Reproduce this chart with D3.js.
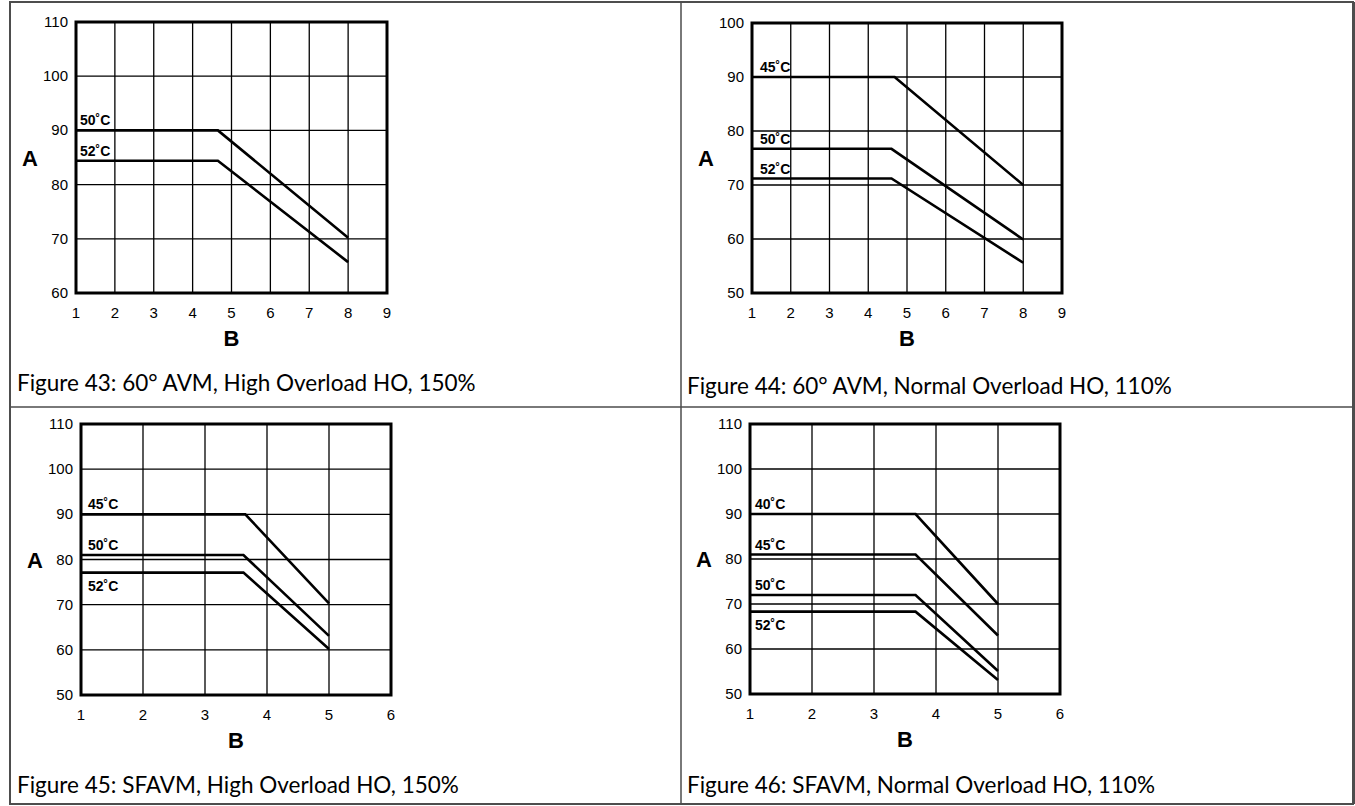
<!DOCTYPE html>
<html>
<head>
<meta charset="utf-8">
<script src="https://cdn.jsdelivr.net/npm/d3@7"></script>
<style>
    body { margin: 0; background: #fff; }
    svg text { font-family: "Liberation Sans", Arial, sans-serif; fill: #000; }
    svg text.caption { font-family: Lato, "Open Sans", sans-serif; }
</style>
</head>
<body>
<svg id="chart" width="1355" height="806"></svg>
<script>
// Figure 43: 60° AVM, HO 150%
const fig43Labels = ["50˚C", "52˚C"];
const fig43Flat = [90, 84.4];
const fig43Knee = [4.65, 4.65];
const fig43EndX = [8, 8];
const fig43End = [70.2, 65.7];

// Figure 44: 60° AVM, NO 110%
const fig44Labels = ["45˚C", "50˚C", "52˚C"];
const fig44Flat = [90, 76.7, 71.2];
const fig44Knee = [4.68, 4.6, 4.6];
const fig44EndX = [8, 8, 8];
const fig44End = [70, 59.9, 55.6];

// Figure 45: SFAVM, HO 150%
const fig45Labels = ["45˚C", "50˚C", "52˚C"];
const fig45Flat = [90, 81, 77.1];
const fig45Knee = [3.65, 3.62, 3.62];
const fig45EndX = [5, 5, 5];
const fig45End = [70.3, 63.1, 60.2];

// Figure 46: SFAVM, NO 110%
const fig46Labels = ["40˚C", "45˚C", "50˚C", "52˚C"];
const fig46Flat = [90, 81, 72, 68.3];
const fig46Knee = [3.67, 3.67, 3.67, 3.67];
const fig46EndX = [5, 5, 5, 5];
const fig46End = [70, 63, 55.1, 53.1];

// ticks
const xTicksAVM = [1, 2, 3, 4, 5, 6, 7, 8, 9];
const xTicksSFAVM = [1, 2, 3, 4, 5, 6];
const yTicks43 = [60, 70, 80, 90, 100, 110];
const yTicks44 = [50, 60, 70, 80, 90, 100];
const yTicksSFAVM = [50, 60, 70, 80, 90, 100, 110];

const captions = [
    "Figure 43: 60° AVM, High Overload HO, 150%",
    "Figure 44: 60° AVM, Normal Overload HO, 110%",
    "Figure 45: SFAVM, High Overload HO, 150%",
    "Figure 46: SFAVM, Normal Overload HO, 110%"
];
const xAxisLabel = "B";
const yAxisLabel = "A";

const svg = d3.select("#chart");

// table frame
const frame = svg.append("g").attr("stroke", "#4d4d4d").attr("fill", "none");
frame.append("rect").attr("x", 10).attr("y", 2).attr("width", 1343).attr("height", 802).attr("stroke-width", 2);
frame.append("line").attr("x1", 1353.5).attr("x2", 1353.5).attr("y1", 2).attr("y2", 804).attr("stroke-width", 3);
frame.append("line").attr("x1", 681).attr("x2", 681).attr("y1", 2).attr("y2", 804).attr("stroke-width", 1.5);
frame.append("line").attr("x1", 10).attr("x2", 1353).attr("y1", 407).attr("y2", 407).attr("stroke-width", 1.5);

function toSeries(labels, flat, knee, endX, end) {
    return labels.map((label, i) => ({
        label: label,
        points: [[1, flat[i]], [knee[i], flat[i]], [endX[i], end[i]]]
    }));
}

function drawPanel(opts) {
    const g = svg.append("g");
    const x = d3.scaleLinear()
        .domain(d3.extent(opts.xTicks))
        .range([opts.left, opts.right]);
    const y = d3.scaleLinear()
        .domain(d3.extent(opts.yTicks))
        .range([opts.bottom, opts.top]);

    // grid
    g.append("g")
        .selectAll("line")
        .data(opts.xTicks)
        .join("line")
        .attr("x1", d => x(d)).attr("x2", d => x(d))
        .attr("y1", opts.top).attr("y2", opts.bottom)
        .attr("stroke", "#000").attr("stroke-width", 1.3);
    g.append("g")
        .selectAll("line")
        .data(opts.yTicks)
        .join("line")
        .attr("x1", opts.left).attr("x2", opts.right)
        .attr("y1", d => y(d)).attr("y2", d => y(d))
        .attr("stroke", "#000").attr("stroke-width", 1.3);

    // tick labels
    g.append("g")
        .selectAll("text")
        .data(opts.yTicks)
        .join("text")
        .attr("x", opts.left - 8)
        .attr("y", d => y(d) + 5)
        .attr("text-anchor", "end")
        .attr("font-size", "15px")
        .text(d => d);
    g.append("g")
        .selectAll("text")
        .data(opts.xTicks)
        .join("text")
        .attr("x", d => x(d))
        .attr("y", opts.bottom + 25)
        .attr("text-anchor", "middle")
        .attr("font-size", "15px")
        .text(d => d);

    // curves
    const lineGen = d3.line()
        .x(d => x(d[0]))
        .y(d => y(d[1]));
    g.append("g")
        .selectAll("path")
        .data(opts.series)
        .join("path")
        .attr("fill", "none")
        .attr("stroke", "#000")
        .attr("stroke-width", 2.6)
        .attr("d", d => lineGen(d.points));

    g.append("g")
        .selectAll("text")
        .data(opts.series)
        .join("text")
        .attr("x", opts.left + opts.labelDx)
        .attr("y", (d, i) => y(d.points[0][1]) + (opts.below.includes(i) ? 18 : -5))
        .attr("font-size", "14px")
        .attr("font-weight", "bold")
        .text(d => d.label);

    // plot frame
    g.append("rect")
        .attr("x", opts.left).attr("y", opts.top)
        .attr("width", opts.right - opts.left)
        .attr("height", opts.bottom - opts.top)
        .attr("fill", "none")
        .attr("stroke", "#000")
        .attr("stroke-width", 3);

    // axis labels
    g.append("text")
        .attr("x", opts.aX)
        .attr("y", (opts.top + opts.bottom) / 2 + 8)
        .attr("text-anchor", "middle")
        .attr("font-size", "22px")
        .attr("font-weight", "bold")
        .text(yAxisLabel);
    g.append("text")
        .attr("x", (opts.left + opts.right) / 2)
        .attr("y", opts.bottom + 53)
        .attr("text-anchor", "middle")
        .attr("font-size", "22px")
        .attr("font-weight", "bold")
        .text(xAxisLabel);

    g.append("text")
        .attr("class", "caption")
        .attr("x", opts.capX)
        .attr("y", opts.capY)
        .attr("font-size", "22.5px")
        .text(opts.caption);
}

drawPanel({
    left: 76, right: 387, top: 22, bottom: 293,
    xTicks: xTicksAVM, yTicks: yTicks43,
    series: toSeries(fig43Labels, fig43Flat, fig43Knee, fig43EndX, fig43End),
    below: [], labelDx: 4, aX: 30,
    caption: captions[0], capX: 17, capY: 391
});
drawPanel({
    left: 752, right: 1062, top: 23, bottom: 293,
    xTicks: xTicksAVM, yTicks: yTicks44,
    series: toSeries(fig44Labels, fig44Flat, fig44Knee, fig44EndX, fig44End),
    below: [], labelDx: 8, aX: 706,
    caption: captions[1], capX: 687, capY: 394
});
drawPanel({
    left: 81, right: 391, top: 424, bottom: 695,
    xTicks: xTicksSFAVM, yTicks: yTicksSFAVM,
    series: toSeries(fig45Labels, fig45Flat, fig45Knee, fig45EndX, fig45End),
    below: [2], labelDx: 7, aX: 35,
    caption: captions[2], capX: 17, capY: 793
});
drawPanel({
    left: 750, right: 1060, top: 424, bottom: 694,
    xTicks: xTicksSFAVM, yTicks: yTicksSFAVM,
    series: toSeries(fig46Labels, fig46Flat, fig46Knee, fig46EndX, fig46End),
    below: [3], labelDx: 5, aX: 704,
    caption: captions[3], capX: 687, capY: 793
});
</script>
</body>
</html>
